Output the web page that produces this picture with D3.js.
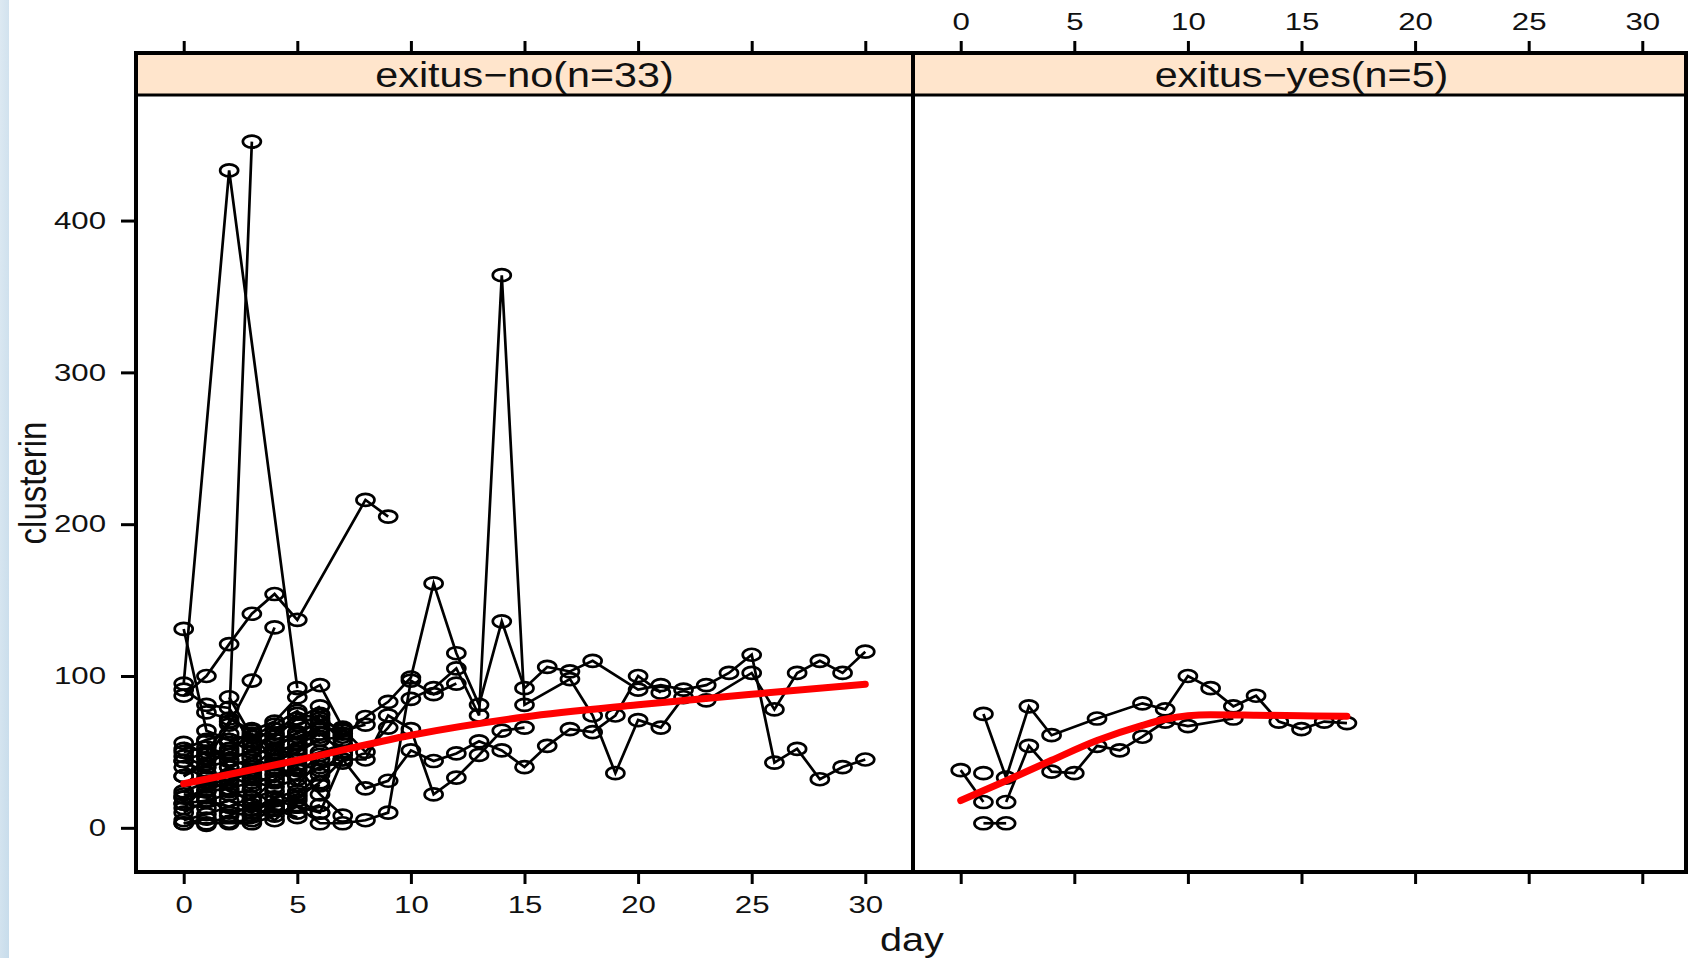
<!DOCTYPE html>
<html>
<head>
<meta charset="utf-8">
<script src="https://cdnjs.cloudflare.com/ajax/libs/d3/7.8.5/d3.min.js"></script>
<style>
  body { margin: 0; background: #fff; }
  svg { display: block; }
  text { font-family: "Liberation Sans", Arial, sans-serif; fill: #111; }
</style>
</head>
<body>
<script>

// exitus = no : one row per patient (day of sample, clusterin value)
var noDays = [
  [0,2,5],
  [0,1,2,3],
  [0,1,2,3,4,5,8,9],
  [0,1,2,3,4],
  [0,1,2,3,4,5,6],
  [0,1,2,3,4,5,6,7,8,9,10,11,12,13,14,15,17,18,19,20,21,22,23,25,26,27,28,29,30],
  [0,1,2,3,4,5,6,7,8,9,10,11,12,13,14,15,16,17,18,20,21,22,23,24,25,26,27,28,29,30],
  [0,1,2,3,4,5,6,7,8,9,10,11,12,13,14,15,16,17,18,19,20,21],
  [0,1,2,3,4,5,6,7,8,9,10,11,12,13,14,15],
  [0,1,2,3,4,5,6,7,8,9,10,11,12],
  [0,1,2,3,4,5,6],
  [0,1,2,3,4,5,6,7],
  [0,1,2,3,4,5,6],
  [0,1,2,3,4,5,6,7],
  [0,1,2,3,4,5,6,7,8],
  [0,1,2,3,4,5,6,7],
  [0,1,2,3,4,5,6],
  [0,1,2,3,4,5],
  [0,1,2,3,4,5,6],
  [0,1,2,3,4,5,6],
  [1,2,3,4,5,6,7],
  [1,2,3,4,5,6],
  [1,2,3,4,5,6,7],
  [1,2,3,4,5],
  [2,3,4,5,6],
  [2,3,4,5,6,7],
  [0,1,2,3,4,5,6,7],
  [0,1,2,3,4,5,6],
  [2,3,4,5,6],
  [0,1,2,3,4,5,6],
  [3,4,5,6,7],
  [1,2,3,4,5,6],
  [0,1,2,3,4,5]
];
var noVals = [
  [95,433,92],
  [44,50,70,452],
  [87,100,121,141,154,137,216,205],
  [34,45,68,97,132],
  [131,64,58,50,62,75,72],
  [56,48,45,40,52,63,70,65,50,66,85,92,105,74,364,81,98,74,36,71,66,86,84,102,78,102,110,102,116],
  [20,25,30,38,45,52,58,60,73,83,99,161,115,81,136,92,106,103,110,91,94,91,94,102,114,43,52,32,40,45],
  [16,18,22,25,15,20,30,45,26,31,51,44,49,57,51,40,54,65,63,74,100,89],
  [5,9,14,10,18,14,10,45,45,74,65,22,33,48,64,66],
  [3,3,3,3,8,14,3,3,5,10,97,88,95],
  [91,81,79,55,60,72,80],
  [52,58,62,57,65,68,74,62],
  [47,40,44,52,48,56,65],
  [44,36,35,42,38,45,50,55],
  [24,30,40,46,55,60,66,64,68],
  [20,24,26,30,27,32,40,43],
  [16,13,18,12,20,24,28],
  [10,18,14,20,24,15],
  [3,6,4,5,12,10,15],
  [34,42,50,46,40,35,48],
  [76,72,64,70,86,94,66],
  [46,52,60,68,77,60],
  [57,40,34,30,40,22,8],
  [30,34,28,35,38],
  [56,62,44,50,58],
  [25,18,32,42,38,48],
  [50,53,48,65,58,62,70,58],
  [22,20,10,8,14,22,35],
  [86,60,52,48,75],
  [13,28,32,36,42,28,45],
  [32,50,55,62,50],
  [2,8,15,5,18,10],
  [40,33,24,18,12,7]
];

// exitus = yes
var yesDays = [
  [1,2,3,4,6,8,9,10,11,12,13,14,15,16,17],
  [2,3,4,5,6,7,8,9,10,12],
  [0,1],
  [1,2],
  [1]
];
var yesVals = [
  [75,33,80,61,72,82,78,100,92,80,87,70,65,70,69],
  [17,54,37,36,54,51,60,70,67,72],
  [38,17],
  [3,3],
  [36]
];

// red smooth (loess)
var noFitDays = [0, 5, 10, 15, 20, 25, 30];
var noFitVals = [29, 44.5, 61, 73, 81, 88, 94.5];
var yesFitDays = [0, 2, 4, 6, 8, 9, 10, 11, 13, 15, 17];
var yesFitVals = [18, 31, 44.5, 57.5, 67.5, 71.5, 73.8, 74.5, 74.2, 73.8, 73.5];

var xTicks = [0, 5, 10, 15, 20, 25, 30];
var yTicks = [0, 100, 200, 300, 400];
var stripLabels = ["exitus\u2212no(n=33)", "exitus\u2212yes(n=5)"];

var W = 1688, H = 958;
var panelTop = 53, stripH = 42, panelBottom = 872;

var svg = d3.select("body").append("svg")
            .attr("width", W)
            .attr("height", H);
var defs = svg.append("defs");

// light blue edge of the slide on the far left
var grad = defs.append("linearGradient")
               .attr("id", "edge")
               .attr("x1", 0).attr("y1", 0).attr("x2", 1).attr("y2", 1);
grad.append("stop").attr("offset", "0%").attr("stop-color", "#dde9f2");
grad.append("stop").attr("offset", "100%").attr("stop-color", "#c7dceb");
svg.append("rect")
   .attr("x", 0).attr("y", 0)
   .attr("width", 9).attr("height", H)
   .attr("fill", "url(#edge)");

var y = d3.scaleLinear().domain([-29.1, 482.7]).range([panelBottom, panelTop + stripH]);

var panels = [
  { x0: 136, x1: 913, days: noDays, vals: noVals, fd: noFitDays, fv: noFitVals },
  { x0: 913, x1: 1686, days: yesDays, vals: yesVals, fd: yesFitDays, fv: yesFitVals }
];

// the picture is a bit stretched sideways, so text is too
function stretch(sel, sx) {
  sel.each(function () {
    var t = d3.select(this);
    t.attr("x", (+t.attr("x") || 0) / sx)
     .attr("transform", "scale(" + sx + ",1)");
  });
}

function styleAxis(g) {
  g.select(".domain").remove();
  g.attr("font-family", null).attr("font-size", 24);
  g.selectAll("line").attr("stroke", "#000").attr("stroke-width", 3);
  g.selectAll("text").attr("fill", "#111");
}

panels.forEach(function (p, i) {
  var x = d3.scaleLinear().domain([-2.1, 32.1]).range([p.x0, p.x0 + 777]);
  var cx = p.x0 + 777 / 2;

  defs.append("clipPath").attr("id", "clip" + i)
      .append("rect")
      .attr("x", p.x0).attr("y", panelTop + stripH)
      .attr("width", p.x1 - p.x0).attr("height", panelBottom - panelTop - stripH);

  var g = svg.append("g").attr("clip-path", "url(#clip" + i + ")");

  var rows = p.days.map(function (ds, k) {
    return ds.map(function (d, j) { return [d, p.vals[k][j]]; });
  });

  var line = d3.line()
               .x(function (d) { return x(d[0]); })
               .y(function (d) { return y(d[1]); });

  g.selectAll("path.subj")
    .data(rows)
    .enter().append("path")
      .attr("class", "subj")
      .attr("d", line)
      .attr("fill", "none")
      .attr("stroke", "#000")
      .attr("stroke-width", 2.7);

  g.selectAll("ellipse")
    .data(d3.merge(rows))
    .enter().append("ellipse")
      .attr("cx", function (d) { return x(d[0]); })
      .attr("cy", function (d) { return y(d[1]); })
      .attr("rx", 9)
      .attr("ry", 6)
      .attr("fill", "none")
      .attr("stroke", "#000")
      .attr("stroke-width", 2.7);

  var fit = p.fd.map(function (d, j) { return [d, p.fv[j]]; });
  g.append("path")
    .attr("d", line.curve(d3.curveMonotoneX)(fit))
    .attr("fill", "none")
    .attr("stroke", "#ff0000")
    .attr("stroke-width", 7)
    .attr("stroke-linecap", "round");

  // strip
  svg.append("rect")
     .attr("x", p.x0).attr("y", panelTop)
     .attr("width", p.x1 - p.x0).attr("height", stripH)
     .attr("fill", "#ffe5cc")
     .attr("stroke", "#000")
     .attr("stroke-width", 3);
  svg.append("text")
     .attr("transform", "translate(" + cx + "," + (panelTop + stripH / 2 + 1) + ") scale(1.18,1)")
     .attr("text-anchor", "middle")
     .attr("dominant-baseline", "central")
     .attr("font-size", 35)
     .text(stripLabels[i]);

  // panel frame
  svg.append("rect")
     .attr("x", p.x0).attr("y", panelTop)
     .attr("width", p.x1 - p.x0).attr("height", panelBottom - panelTop)
     .attr("fill", "none")
     .attr("stroke", "#000")
     .attr("stroke-width", 4);

  // x axes: labels below for panel 1, above for panel 2 (lattice alternating)
  var bot = svg.append("g")
     .attr("transform", "translate(0," + (panelBottom + 1) + ")")
     .call(d3.axisBottom(x).tickValues(xTicks).tickSize(11).tickPadding(12)
             .tickFormat(i === 0 ? d3.format("d") : ""));
  styleAxis(bot);
  stretch(bot.selectAll("text"), 1.3);

  var tp = svg.append("g")
     .attr("transform", "translate(0," + (panelTop - 1) + ")")
     .call(d3.axisTop(x).tickValues(xTicks).tickSize(11).tickPadding(11)
             .tickFormat(i === 1 ? d3.format("d") : ""));
  styleAxis(tp);
  stretch(tp.selectAll("text"), 1.3);
});

var yAxis = svg.append("g")
   .attr("transform", "translate(135,0)")
   .call(d3.axisLeft(y).tickValues(yTicks).tickSize(14).tickPadding(15));
styleAxis(yAxis);
stretch(yAxis.selectAll("text"), 1.3);

// axis titles
svg.append("text")
   .attr("transform", "translate(912,940) scale(1.2,1)")
   .attr("text-anchor", "middle")
   .attr("dominant-baseline", "central")
   .attr("font-size", 33)
   .text("day");

svg.append("text")
   .attr("transform", "translate(32,483) scale(1.2,1) rotate(-90)")
   .attr("text-anchor", "middle")
   .attr("dominant-baseline", "central")
   .attr("font-size", 33)
   .text("clusterin");

</script>
</body>
</html>
